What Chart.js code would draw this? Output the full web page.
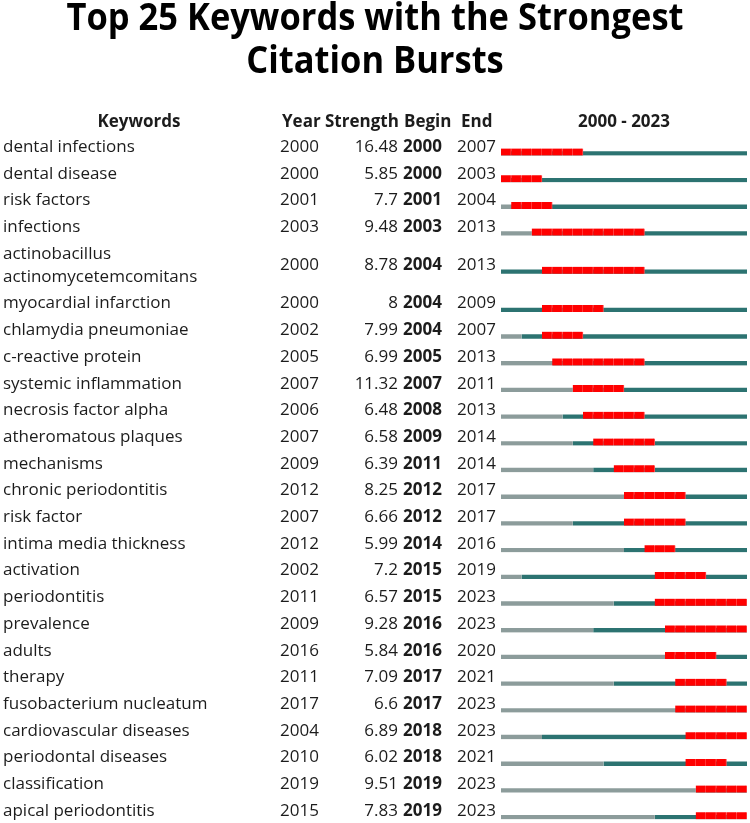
<!DOCTYPE html>
<html>
<head>
<meta charset="utf-8">
<script src="https://cdn.jsdelivr.net/npm/chart.js@4.4.1/dist/chart.umd.min.js"></script>
<style>
  html, body { margin: 0; padding: 0; background: #ffffff; }
  #wrap { width: 750px; height: 823px; position: relative; }
</style>
</head>
<body>
<div id="wrap"><canvas id="c" width="750" height="823"></canvas></div>
<script>
// ---- data ----
const titleLines = ['Top 25 Keywords with the Strongest', 'Citation Bursts'];
const headers = ['Keywords', 'Year', 'Strength', 'Begin', 'End'];
const yearRange = [2000, 2023];
const keywords = [
  'dental infections', 'dental disease', 'risk factors', 'infections',
  ['actinobacillus', 'actinomycetemcomitans'],
  'myocardial infarction', 'chlamydia pneumoniae', 'c-reactive protein',
  'systemic inflammation', 'necrosis factor alpha', 'atheromatous plaques',
  'mechanisms', 'chronic periodontitis', 'risk factor', 'intima media thickness',
  'activation', 'periodontitis', 'prevalence', 'adults', 'therapy',
  'fusobacterium nucleatum', 'cardiovascular diseases', 'periodontal diseases',
  'classification', 'apical periodontitis'
];
const firstYear = [2000, 2000, 2001, 2003, 2000, 2000, 2002, 2005, 2007, 2006, 2007, 2009, 2012, 2007, 2012, 2002, 2011, 2009, 2016, 2011, 2017, 2004, 2010, 2019, 2015];
const strength  = [16.48, 5.85, 7.7, 9.48, 8.78, 8, 7.99, 6.99, 11.32, 6.48, 6.58, 6.39, 8.25, 6.66, 5.99, 7.2, 6.57, 9.28, 5.84, 7.09, 6.6, 6.89, 6.02, 9.51, 7.83];
const beginYear = [2000, 2000, 2001, 2003, 2004, 2004, 2004, 2005, 2007, 2008, 2009, 2011, 2012, 2012, 2014, 2015, 2015, 2016, 2016, 2017, 2017, 2018, 2018, 2019, 2019];
const endYear   = [2007, 2003, 2004, 2013, 2013, 2009, 2007, 2013, 2011, 2013, 2014, 2014, 2017, 2017, 2016, 2019, 2023, 2023, 2020, 2021, 2023, 2023, 2021, 2023, 2023];

// ---- style ----
const RED = '#ff0000', TEAL = '#2c7371', GREY = '#8c9c9b', TEXT = '#1c1c1c';
const FONT = '"Open Sans", "DejaVu Sans", sans-serif';

// row positions (a wrapped label makes its row taller)
const lineCount = keywords.map(k => Array.isArray(k) ? k.length : 1);
const rowH = lineCount.map(n => 1 + 0.86 * (n - 1));
const pos = [];
keywords.forEach((k, i) => { pos.push(i === 0 ? 0 : pos[i - 1] + (rowH[i - 1] + rowH[i]) / 2); });

const tStart = yearRange[0], tEnd = yearRange[1] + 1;
const greyData = [], tealData = [], redData = [];
keywords.forEach((k, i) => {
  if (firstYear[i] > tStart) greyData.push({ x: [tStart, firstYear[i]], y: pos[i] });
  tealData.push({ x: [firstYear[i], tEnd], y: pos[i] });
  for (let yr = beginYear[i]; yr <= endYear[i]; yr++) redData.push({ x: [yr, yr + 1], y: pos[i] });
});

const tablePlugin = {
  id: 'table',
  afterDraw(chart) {
    const ctx = chart.ctx, ys = chart.scales.y;
    ctx.save();
    ctx.fillStyle = '#000';
    // title
    ctx.font = 'bold 37px ' + FONT;
    ctx.textAlign = 'center';
    ctx.textBaseline = 'alphabetic';
    const w1 = ctx.measureText(titleLines[0]).width;
    const sx = 617 / w1;
    [30, 73].forEach((by, j) => {
      ctx.save();
      ctx.translate(375, by);
      ctx.scale(sx, 1);
      ctx.fillText(titleLines[j], 0, 0);
      ctx.restore();
    });
    // headers
    const hy = ys.getPixelForValue(pos[0]) - 25;
    ctx.font = 'bold 17px ' + FONT;
    ctx.fillStyle = TEXT;
    ctx.textAlign = 'center'; ctx.fillText(headers[0], 139, hy);
    ctx.textAlign = 'left'; ctx.fillText(headers[1], 282, hy);
    ctx.textAlign = 'left'; ctx.fillText(headers[2], 325, hy);
    ctx.textAlign = 'left'; ctx.fillText(headers[3], 404, hy);
    ctx.textAlign = 'left'; ctx.fillText(headers[4], 461, hy);
    ctx.textAlign = 'center';
    ctx.fillText(yearRange[0] + ' - ' + yearRange[1], (chart.chartArea.left + chart.chartArea.right) / 2, hy);
    // rows
    keywords.forEach((k, i) => {
      const y = ys.getPixelForValue(pos[i]);
      const lines = Array.isArray(k) ? k : [k];
      ctx.font = '17px ' + FONT;
      ctx.textAlign = 'left';
      lines.forEach((ln, j) => ctx.fillText(ln, 3, y + (j - (lines.length - 1) / 2) * 23.4));
      ctx.fillText(String(firstYear[i]), 280, y);
      ctx.textAlign = 'right';
      ctx.fillText(String(strength[i]), 398, y);
      ctx.textAlign = 'left';
      ctx.font = 'bold 17px ' + FONT;
      ctx.fillText(String(beginYear[i]), 403, y);
      ctx.font = '17px ' + FONT;
      ctx.fillText(String(endYear[i]), 457, y);
    });
    ctx.restore();
  }
};

new Chart(document.getElementById('c'), {
  type: 'bar',
  data: {
    datasets: [
      { label: 'burst', data: redData, backgroundColor: RED, borderColor: '#ff5050',
        borderWidth: { right: 1 }, borderSkipped: false, barThickness: 7, order: 0 },
      { label: 'before', data: greyData, backgroundColor: GREY, borderColor: 'rgba(255,255,255,0)',
        borderWidth: { top: 3 }, borderSkipped: false, barThickness: 7, order: 1 },
      { label: 'after', data: tealData, backgroundColor: TEAL, borderColor: 'rgba(255,255,255,0)',
        borderWidth: { top: 3 }, borderSkipped: false, barThickness: 7, order: 2 }
    ]
  },
  options: {
    indexAxis: 'y',
    responsive: false,
    devicePixelRatio: 1,
    animation: false,
    grouped: false,
    layout: { padding: { left: 501, right: 3, top: 136, bottom: 0 } },
    scales: {
      x: { type: 'linear', min: tStart, max: tEnd, display: false, offset: false, grace: 0 },
      y: { type: 'linear', reverse: true, min: -0.6, max: pos[pos.length - 1] + 0.27, display: false, offset: false, grace: 0 }
    },
    plugins: { legend: { display: false }, tooltip: { enabled: false }, title: { display: false } }
  },
  plugins: [tablePlugin]
});
</script>
</body>
</html>
